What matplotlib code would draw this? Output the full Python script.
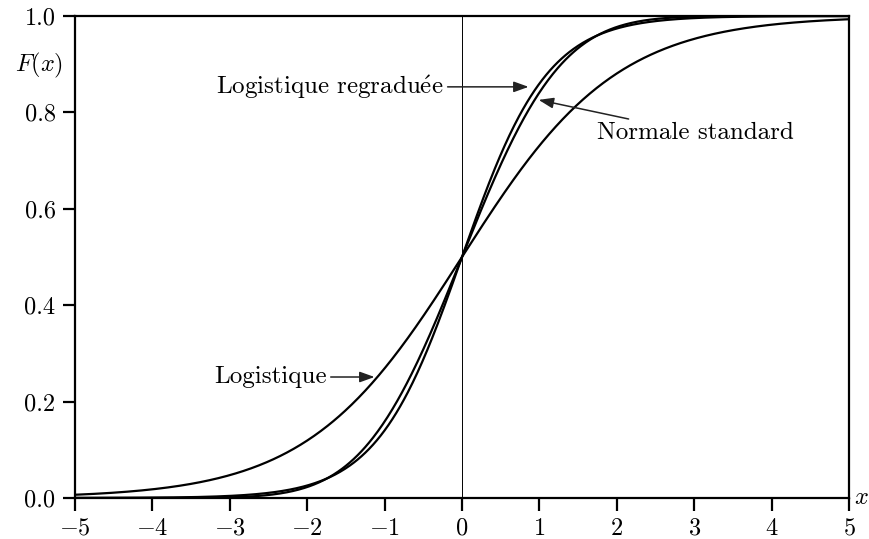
import math
import numpy as np
import matplotlib
matplotlib.use("Agg")
import matplotlib.pyplot as plt

plt.rcParams['font.family'] = 'serif'
plt.rcParams['font.serif'] = ['cmr10']
plt.rcParams['mathtext.fontset'] = 'cm'
plt.rcParams['axes.formatter.use_mathtext'] = True

# curve definitions: logistic scale parameters and the x grid
x_min, x_max = -5, 5
logistic_scale = 1.0
rescaled_scale = math.sqrt(3) / math.pi
x_ticks = [-5, -4, -3, -2, -1, 0, 1, 2, 3, 4, 5]
y_ticks = [0.0, 0.2, 0.4, 0.6, 0.8, 1.0]

# annotation labels: (text, text position, arrow tip)
labels = [
    (r"Logistique regradu$\mathrm{\acute{e}}$e", (-0.24, 0.853), (0.86, 0.853)),
    ("Normale standard", (1.74, 0.757), (0.99, 0.826)),
    ("Logistique", (-1.75, 0.251), (-1.13, 0.251)),
]
label_ha = ['right', 'left', 'right']

x = np.linspace(x_min, x_max, 801)
F_logistic = 1.0 / (1.0 + np.exp(-x / logistic_scale))
F_rescaled = 1.0 / (1.0 + np.exp(-x / rescaled_scale))
F_normal = 0.5 * (1.0 + np.array([math.erf(v / math.sqrt(2)) for v in x]))

fig = plt.figure(figsize=(8.7, 5.39), dpi=100)
ax = fig.add_axes([0.0862, 0.0761, 0.8897, 0.8942])

ax.axvline(0, color='black', lw=0.7)
for F in (F_logistic, F_rescaled, F_normal):
    ax.plot(x, F, color='black', lw=1.6)

ax.set_xlim(x_min, x_max)
ax.set_ylim(0, 1)
ax.set_xticks(x_ticks)
ax.set_yticks(y_ticks)
ax.yaxis.set_major_formatter(matplotlib.ticker.FormatStrFormatter('%.1f'))
ax.tick_params(direction='out', length=9, width=1.6, labelsize=17.5, pad=5)
for s in ax.spines.values():
    s.set_linewidth(1.6)

ax.text(-0.016, 0.898, r'$F(x)$', transform=ax.transAxes, fontsize=17.5,
        ha='right', va='center')
ax.text(1.016, 0.0, r'$x$', transform=ax.transAxes, fontsize=17.5,
        ha='center', va='center')

for (txt, xy_text, xy_tip), ha in zip(labels, label_ha):
    ax.annotate(txt, xy=xy_tip, xytext=xy_text, fontsize=18, ha=ha, va='center',
                arrowprops=dict(arrowstyle='-|>,head_length=0.5,head_width=0.18',
                                color='#222222', lw=1.1, shrinkA=1, shrinkB=0))

fig.savefig('out.png', dpi=100)
